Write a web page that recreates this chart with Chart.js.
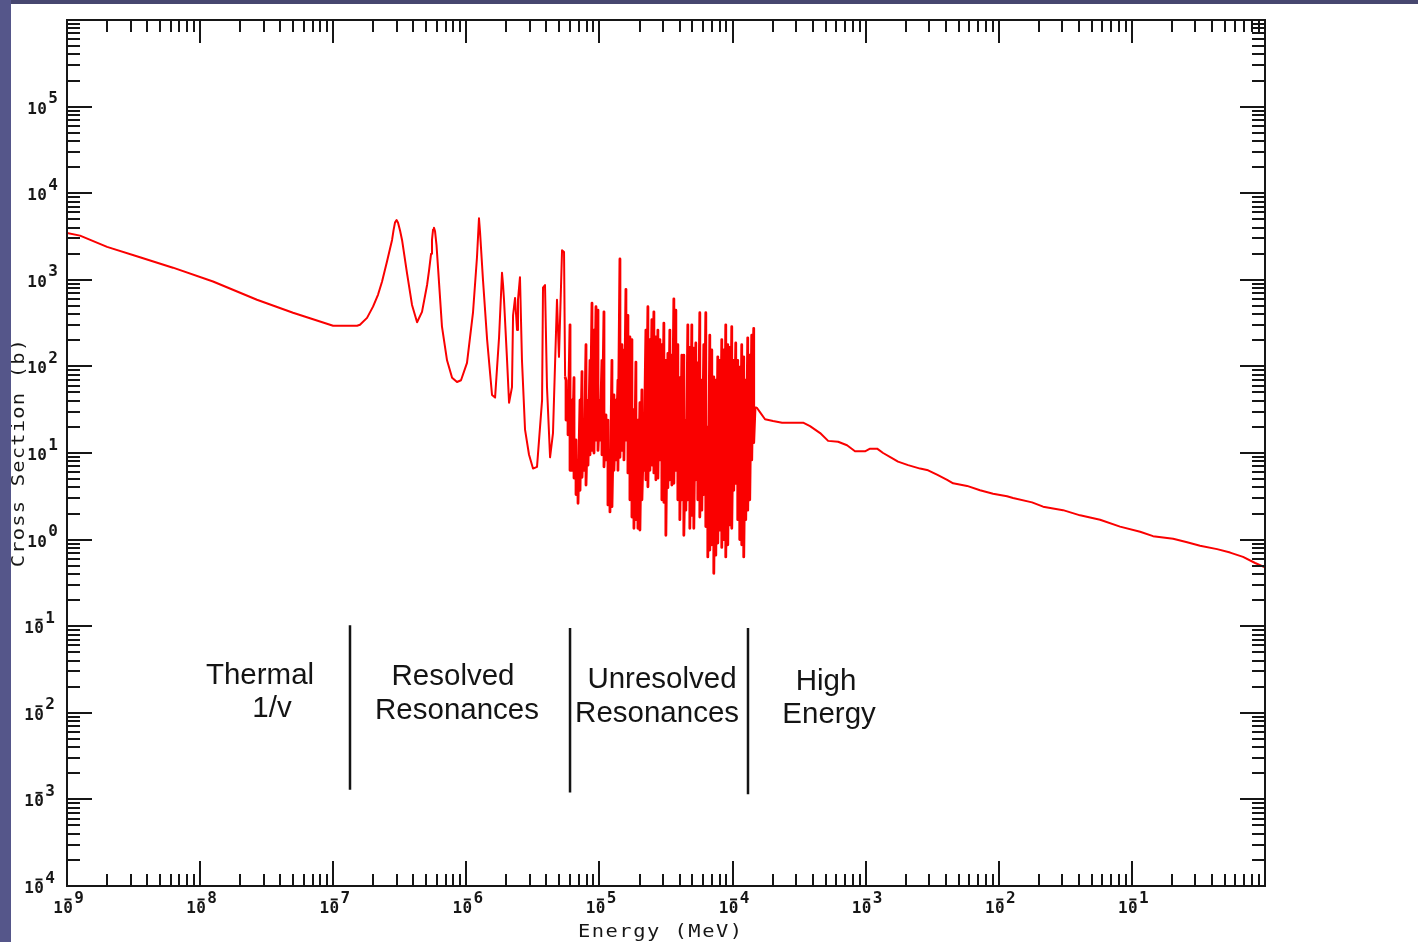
<!DOCTYPE html>
<html>
<head>
<meta charset="utf-8">
<title>Cross Section vs Energy</title>
<script src="https://cdn.jsdelivr.net/npm/chart.js@4.4.1/dist/chart.umd.min.js"></script>
<style>
    html, body { margin: 0; padding: 0; background: #ffffff; overflow: hidden; }
    #wrap { position: relative; width: 1418px; height: 942px; }
    #xsChart { position: absolute; left: 0; top: 0; }
    .edge-top { position: absolute; left: 0; top: 0; width: 1418px; height: 4px; background: #47476f; }
    .edge-left { position: absolute; left: 0; top: 0; width: 11px; height: 942px; background: #55568a; }
</style>
</head>
<body>
<div id="wrap">
    <canvas id="xsChart" width="1418" height="942"></canvas>
    <div class="edge-top"></div>
    <div class="edge-left"></div>
</div>
<script>
// values are log10 of energy (MeV) and log10 of cross section (b)

// thermal 1/v part and resolved resonances
const lowEnergyExp = [
    -9.000, -8.902, -8.699, -8.452, -8.204, -7.903, -7.573, -7.302, -7.001, -6.821, -6.799,
    -6.746, -6.701, -6.663, -6.633, -6.596, -6.558, -6.547, -6.536, -6.524, -6.513, -6.498, -6.483, -6.446,
    -6.408, -6.370, -6.333, -6.295, -6.280, -6.265, -6.258, -6.250, -6.243, -6.235, -6.224, -6.213, -6.183, -6.145,
    -6.107, -6.070, -6.040, -5.995, -5.950, -5.920, -5.905, -5.897, -5.875, -5.844,
    -5.807, -5.784, -5.754, -5.732, -5.724, -5.717, -5.694, -5.679, -5.657, -5.649,
    -5.634, -5.619, -5.612, -5.597, -5.582, -5.559, -5.529, -5.499, -5.469, -5.431,
    -5.424, -5.409, -5.394, -5.371, -5.349, -5.319, -5.304, -5.281, -5.266, -5.258
];
const lowXsExp = [
    3.54, 3.51, 3.38, 3.26, 3.14, 2.98, 2.77, 2.62, 2.47, 2.47, 2.48,
    2.56, 2.69, 2.83, 2.98, 3.21, 3.46, 3.57, 3.66, 3.69, 3.66, 3.57, 3.46, 3.08,
    2.71, 2.51, 2.63, 2.94, 3.11, 3.30, 3.46, 3.58, 3.60, 3.56, 3.40, 3.15, 2.46, 2.07,
    1.87, 1.82, 1.84, 2.04, 2.62, 3.26, 3.71, 3.55, 3.00, 2.31,
    1.67, 1.64, 2.34, 3.08, 2.94, 2.77, 2.07, 1.58, 1.76, 2.59,
    2.79, 2.42, 2.77, 3.03, 2.07, 1.27, 0.98, 0.82, 0.84, 1.61,
    2.91, 2.94, 1.76, 0.95, 1.23, 2.77, 2.11, 3.34, 3.32, 1.88
];

// unresolved resonances: each stroke goes from a high to a low value
const unresolvedEnergyExp = [
    -5.251, -5.236, -5.221, -5.206, -5.191, -5.176, -5.161, -5.146, -5.131, -5.116,
    -5.101, -5.086, -5.071, -5.056, -5.041, -5.026, -5.011, -4.996, -4.981, -4.966,
    -4.951, -4.936, -4.921, -4.906, -4.891, -4.876, -4.861, -4.846, -4.831, -4.816,
    -4.801, -4.786, -4.771, -4.756, -4.741, -4.726, -4.711, -4.696, -4.681, -4.666,
    -4.651, -4.636, -4.621, -4.606, -4.591, -4.576, -4.561, -4.546, -4.531, -4.516,
    -4.501, -4.486, -4.471, -4.456, -4.441, -4.426, -4.411, -4.396, -4.381, -4.366,
    -4.351, -4.336, -4.321, -4.306, -4.291, -4.276, -4.261, -4.246, -4.231, -4.216,
    -4.201, -4.186, -4.171, -4.156, -4.141, -4.126, -4.111, -4.096, -4.081, -4.066,
    -4.051, -4.036, -4.021, -4.006, -3.991, -3.976, -3.961, -3.946, -3.931, -3.916,
    -3.901, -3.886, -3.871, -3.856, -3.841
];
const unresolvedXsHighExp = [
    1.84, 1.67, 2.48, 1.61, 1.87, 1.15, 0.92, 1.61, 1.94, 1.38,
    2.25, 1.61, 2.07, 2.73, 2.42, 2.69, 2.65, 1.61, 2.07, 2.63,
    1.44, 1.38, 0.98, 2.07, 1.67, 1.61, 1.84, 3.24, 2.25, 2.19,
    2.89, 2.59, 2.34, 2.31, 1.50, 2.05, 1.38, 1.58, 1.73, 1.38,
    2.42, 2.69, 2.31, 2.54, 2.63, 2.34, 2.42, 2.31, 2.25, 2.50,
    2.07, 2.15, 2.42, 2.13, 2.78, 2.65, 2.25, 1.87, 2.13, 2.13,
    1.38, 2.48, 2.22, 2.48, 2.21, 2.27, 2.04, 2.62, 1.84, 2.25,
    2.62, 1.30, 2.36, 2.19, 1.88, 1.84, 2.11, 2.07, 2.31, 2.19,
    2.48, 2.25, 2.22, 2.46, 2.07, 2.27, 2.07, 1.99, 2.25, 2.11,
    1.84, 2.33, 2.13, 2.36, 2.44
];
const unresolvedXsLowExp = [
    1.38, 1.21, 0.80, 0.80, 0.71, 0.52, 0.42, 0.57, 0.72, 0.80,
    0.63, 0.86, 0.98, 1.03, 1.00, 1.15, 1.03, 1.15, 0.98, 0.84,
    0.92, 0.40, 0.32, 0.38, 0.80, 0.92, 0.80, 0.95, 1.03, 0.92,
    1.15, 0.77, 0.46, 0.26, 0.13, 0.23, 0.13, 0.11, 0.46, 0.80,
    0.69, 0.61, 0.80, 0.86, 0.77, 0.69, 0.71, 0.92, 0.46, 0.43,
    0.05, 0.60, 0.69, 0.63, 0.65, 0.80, 0.46, 0.23, 0.46, 0.05,
    0.34, 0.46, 0.13, 0.28, 0.13, 0.69, 0.46, 0.26, 0.34, 0.52,
    0.15, -0.20, -0.12, -0.06, -0.39, -0.18, -0.04, 0.11, -0.09, 0.00,
    -0.20, -0.06, 0.17, 0.13, 0.57, 0.65, 0.23, 0.00, -0.06, -0.20,
    0.23, 0.34, 0.46, 0.92, 1.12
];

// high energy part
const highEnergyExp = [
    -3.831, -3.816, -3.793, -3.756, -3.696, -3.628, -3.470, -3.418, -3.342, -3.282,
    -3.207, -3.140, -3.080, -3.005, -2.967, -2.914, -2.869, -2.802, -2.757, -2.681,
    -2.591, -2.531, -2.464, -2.388, -2.343, -2.238, -2.141, -2.043, -1.938, -1.893,
    -1.750, -1.667, -1.517, -1.389, -1.239, -1.089, -0.938, -0.841, -0.690, -0.585,
    -0.488, -0.360, -0.262, -0.165, -0.074, 0.000
];
const highXsExp = [
    1.53, 1.52, 1.47, 1.39, 1.37, 1.35, 1.35, 1.31, 1.23, 1.14,
    1.13, 1.09, 1.02, 1.02, 1.05, 1.05, 1.00, 0.94, 0.90, 0.86,
    0.82, 0.80, 0.75, 0.69, 0.65, 0.62, 0.57, 0.53, 0.50, 0.48,
    0.43, 0.38, 0.34, 0.28, 0.23, 0.15, 0.09, 0.04, 0.01, -0.03,
    -0.07, -0.11, -0.15, -0.20, -0.27, -0.32
];

// region boundaries
const boundaryEnergyExp = [-6.874, -5.221, -3.884];
const boundaryTopExp = [-0.99, -1.02, -1.02];
const boundaryBottomExp = [-2.89, -2.92, -2.94];

const regionText = ['Thermal', '1/v', 'Resolved', 'Resonances', 'Unresolved', 'Resonances', 'High', 'Energy'];

const xTickExps = [-9, -8, -7, -6, -5, -4, -3, -2, -1];
const yTickExps = [-4, -3, -2, -1, 0, 1, 2, 3, 4, 5];
const xAxisTitle = 'Energy (MeV)';
const yAxisTitle = 'Cross Section (b)';

document.addEventListener('DOMContentLoaded', function() {
    initializeCrossSectionChart();
});

function toPoints(energyExp, xsExp) {
    return energyExp.map((e, i) => ({ x: Math.pow(10, e), y: Math.pow(10, xsExp[i]) }));
}

function unresolvedPoints() {
    const points = [];
    unresolvedEnergyExp.forEach((e, i) => {
        points.push({ x: Math.pow(10, e), y: Math.pow(10, unresolvedXsHighExp[i]) });
        points.push({ x: Math.pow(10, e), y: Math.pow(10, unresolvedXsLowExp[i]) });
    });
    return points;
}

// "10" plus a raised exponent, plotter style: a bar over the 0 marks a negative power
function drawPowerLabel(ctx, left, baseline, exp) {
    const pitch = 10;
    ctx.textAlign = 'center';
    ctx.fillText('1', left + pitch / 2, baseline);
    ctx.fillText('0', left + pitch * 1.5, baseline);
    ctx.fillText(String(Math.abs(exp)), left + pitch * 2.6, baseline - 10.5);
    if (exp < 0) {
        ctx.fillRect(left + pitch + 1.5, baseline - 14.5, pitch - 3, 1.8);
    }
}

function drawSpaced(ctx, text, centerX, baseline, pitch, stretch) {
    const start = centerX - text.length * pitch / 2;
    ctx.textAlign = 'center';
    for (let i = 0; i < text.length; i++) {
        ctx.save();
        ctx.translate(start + (i + 0.5) * pitch, baseline);
        ctx.scale(stretch, 1);
        ctx.fillText(text[i], 0, 0);
        ctx.restore();
    }
}

const axisFrame = {
    id: 'axisFrame',
    afterDraw(chart, args, opts) {
        const { ctx, chartArea: area } = chart;
        const xs = chart.scales.x;
        const ys = chart.scales.y;
        ctx.save();

        ctx.strokeStyle = '#161616';
        ctx.lineWidth = 2;
        ctx.strokeRect(area.left, area.top, area.right - area.left, area.bottom - area.top);

        ctx.beginPath();
        for (let d = -9; d <= 0; d++) {
            for (let k = 1; k <= 9; k++) {
                if (d === 0 && k > 1) break;
                const px = Math.round(xs.getPixelForValue(k * Math.pow(10, d)));
                const major = k === 1;
                ctx.moveTo(px, area.bottom);
                ctx.lineTo(px, area.bottom - (major ? 25 : 12));
                ctx.moveTo(px, area.top);
                ctx.lineTo(px, area.top + (major ? 23 : 12));
            }
        }
        for (let d = -4; d <= 6; d++) {
            for (let k = 1; k <= 9; k++) {
                if (d === 6 && k > 1) break;
                const py = Math.round(ys.getPixelForValue(k * Math.pow(10, d)));
                const major = k === 1;
                ctx.moveTo(area.left, py);
                ctx.lineTo(area.left + (major ? 25 : 13), py);
                ctx.moveTo(area.right, py);
                ctx.lineTo(area.right - (major ? 25 : 13), py);
            }
        }
        ctx.stroke();

        ctx.fillStyle = '#161616';
        ctx.font = 'bold 16px "DejaVu Sans Mono", monospace';
        ctx.textBaseline = 'alphabetic';
        xTickExps.forEach(exp => {
            const px = xs.getPixelForValue(Math.pow(10, exp));
            drawPowerLabel(ctx, px - 14, area.bottom + 27, exp);
        });
        yTickExps.forEach(exp => {
            const py = ys.getPixelForValue(Math.pow(10, exp));
            drawPowerLabel(ctx, exp < 0 ? 24 : 27, py + 7, exp);
        });

        ctx.font = '17px "DejaVu Sans Mono", monospace';
        drawSpaced(ctx, xAxisTitle, 660, 937, 13.8, 1.2);
        ctx.save();
        ctx.translate(24, 453);
        ctx.rotate(-Math.PI / 2);
        drawSpaced(ctx, yAxisTitle, 0, 0, 13.5, 1.2);
        ctx.restore();

        ctx.font = '29.5px "Liberation Sans", Arial, sans-serif';
        ctx.textAlign = 'center';
        ctx.fillStyle = '#141414';
        opts.spots.forEach((spot, i) => {
            const px = xs.getPixelForValue(Math.pow(10, spot[0]));
            const py = ys.getPixelForValue(Math.pow(10, spot[1]));
            ctx.fillText(regionText[i], px, py);
        });

        ctx.restore();
    }
};

function initializeCrossSectionChart() {
    const canvas = document.getElementById('xsChart');
    if (!canvas) {
        return;
    }

    const lowPoints = toPoints(lowEnergyExp, lowXsExp);
    const highPoints = toPoints(highEnergyExp, highXsExp);
    const midPoints = [lowPoints[lowPoints.length - 1]].concat(unresolvedPoints(), [highPoints[0]]);

    const curveStyle = {
        borderColor: '#fa0000',
        borderJoinStyle: 'round',
        pointRadius: 0,
        tension: 0,
        fill: false
    };

    const datasets = [
        Object.assign({ data: lowPoints, borderWidth: 2 }, curveStyle),
        Object.assign({ data: midPoints, borderWidth: 2.8 }, curveStyle),
        Object.assign({ data: highPoints, borderWidth: 2 }, curveStyle)
    ];

    boundaryEnergyExp.forEach((e, i) => {
        datasets.push({
            data: [
                { x: Math.pow(10, e), y: Math.pow(10, boundaryTopExp[i]) },
                { x: Math.pow(10, e), y: Math.pow(10, boundaryBottomExp[i]) }
            ],
            borderColor: '#141414',
            borderWidth: 2.5,
            pointRadius: 0
        });
    });

    new Chart(canvas, {
        type: 'line',
        data: { datasets: datasets },
        options: {
            responsive: false,
            animation: false,
            events: [],
            layout: {
                padding: { left: 67, top: 20, right: 153, bottom: 56 }
            },
            plugins: {
                legend: { display: false },
                tooltip: { enabled: false },
                axisFrame: {
                    // label anchors: [log10 energy, log10 cross section of baseline]
                    spots: [
                        [-7.550, -1.67], [-7.460, -2.05],
                        [-6.100, -1.68], [-6.070, -2.07],
                        [-4.530, -1.71], [-4.567, -2.11],
                        [-3.298, -1.74], [-3.275, -2.12]
                    ]
                }
            },
            scales: {
                x: { type: 'logarithmic', min: 1e-9, max: 1, display: false },
                y: { type: 'logarithmic', min: 1e-4, max: 1e6, display: false }
            }
        },
        plugins: [axisFrame]
    });
}
</script>
</body>
</html>
